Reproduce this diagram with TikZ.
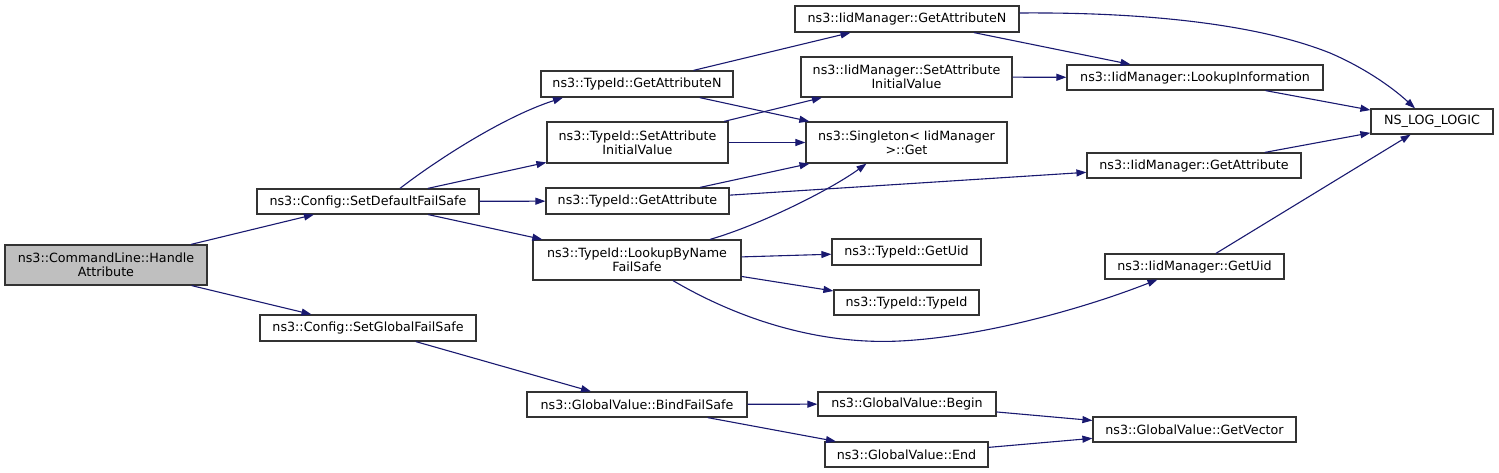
\documentclass[tikz,border=0pt]{standalone}
\usepackage{fontspec}
\setmainfont{DejaVu Sans}
\usetikzlibrary{arrows.meta}
\definecolor{edgec}{HTML}{191970}
\definecolor{bord}{HTML}{333333}
\definecolor{hl}{HTML}{BFBFBF}
\begin{document}
\begin{tikzpicture}[x=1pt,y=-1pt,
  box/.style={draw=bord, line width=1.2pt, fill=white, inner sep=0pt, align=center,
    font=\fontsize{12.7}{14}\selectfont},
  e/.style={draw=edgec, line width=1.1pt, -{Triangle[length=10pt,width=7pt]}}]
\useasboundingbox (0,0) rectangle (1499,473);
% nodes
\node[box, fill=hl, minimum width=202, minimum height=40] (hand) at (106,265) {ns3::CommandLine::Handle\\Attribute};
\node[box, minimum width=222, minimum height=25] (sdf) at (368,201.5) {ns3::Config::SetDefaultFailSafe};
\node[box, minimum width=216, minimum height=26] (sgf) at (368,328) {ns3::Config::SetGlobalFailSafe};
\node[box, minimum width=192, minimum height=26] (gan) at (637,84) {ns3::TypeId::GetAttributeN};
\node[box, minimum width=181, minimum height=41] (sai) at (637.5,142.5) {ns3::TypeId::SetAttribute\\InitialValue};
\node[box, minimum width=224, minimum height=26] (igan) at (907,19) {ns3::IidManager::GetAttributeN};
\node[box, minimum width=211, minimum height=40] (isai) at (906.5,77) {ns3::IidManager::SetAttribute\\InitialValue};
\node[box, minimum width=201, minimum height=41] (sg) at (906.5,142.5) {ns3::Singleton< IidManager\\ >::Get};
\node[box, minimum width=183, minimum height=26] (ga) at (637.5,201) {ns3::TypeId::GetAttribute};
\node[box, minimum width=208, minimum height=40] (lbn) at (637,260) {ns3::TypeId::LookupByName\\FailSafe};
\node[box, minimum width=149, minimum height=26] (tgu) at (906.5,252) {ns3::TypeId::GetUid};
\node[box, minimum width=145, minimum height=25] (tti) at (906.5,302.5) {ns3::TypeId::TypeId};
\node[box, minimum width=256, minimum height=25] (li) at (1195,77.5) {ns3::IidManager::LookupInformation};
\node[box, minimum width=122, minimum height=25] (nsl) at (1432,121.5) {NS\_LOG\_LOGIC};
\node[box, minimum width=214, minimum height=25] (iga) at (1194,165.5) {ns3::IidManager::GetAttribute};
\node[box, minimum width=179, minimum height=25] (igu) at (1194.5,266.5) {ns3::IidManager::GetUid};
\node[box, minimum width=220, minimum height=25] (bfs) at (637,404.5) {ns3::GlobalValue::BindFailSafe};
\node[box, minimum width=178, minimum height=24] (gvb) at (907,404) {ns3::GlobalValue::Begin};
\node[box, minimum width=163, minimum height=25] (gve) at (906.5,454.5) {ns3::GlobalValue::End};
\node[box, minimum width=203, minimum height=25] (gvv) at (1194.5,429.5) {ns3::GlobalValue::GetVector};
% edges
\draw[e] (hand) -- (sdf);
\draw[e] (hand) -- (sgf);
\draw[e] ([xshift=32]sdf.north) .. controls (430,165) and (500,118) .. ([xshift=-74]gan.south);
\draw[e] (sdf) -- (sai);
\draw[e] (sdf) -- (ga);
\draw[e] (sdf) -- (lbn);
\draw[e] (gan) -- (igan);
\draw[e] (gan) -- (sg);
\draw[e] (sai) -- (isai);
\draw[e] (sai) -- (sg);
\draw[e] (ga) -- (sg);
\draw[e] (ga) -- (iga);
\draw[e] ([xshift=73]lbn.north) .. controls (760,225) and (830,190) .. ([xshift=-40]sg.south);
\draw[e] (lbn) -- (tgu);
\draw[e] (lbn) -- (tti);
\draw[e] ([xshift=36]lbn.south) .. controls (740,320) and (820,345) .. (900,341) .. controls (980,337) and (1080,310) .. ([xshift=-37]igu.south);
\draw[e] (igan) -- (li);
\draw[e] ([yshift=6]igan.east) .. controls (1150,12) and (1260,25) .. (1330,53) .. controls (1365,68) and (1393,88) .. ([xshift=-17]nsl.north);
\draw[e] (isai) -- (li);
\draw[e] (li) -- (nsl);
\draw[e] (iga) -- (nsl);
\draw[e] (igu) -- (nsl);
\draw[e] (sgf) -- (bfs);
\draw[e] (bfs) -- (gvb);
\draw[e] (bfs) -- (gve);
\draw[e] (gvb) -- (gvv);
\draw[e] (gve) -- (gvv);
\end{tikzpicture}
\end{document}
